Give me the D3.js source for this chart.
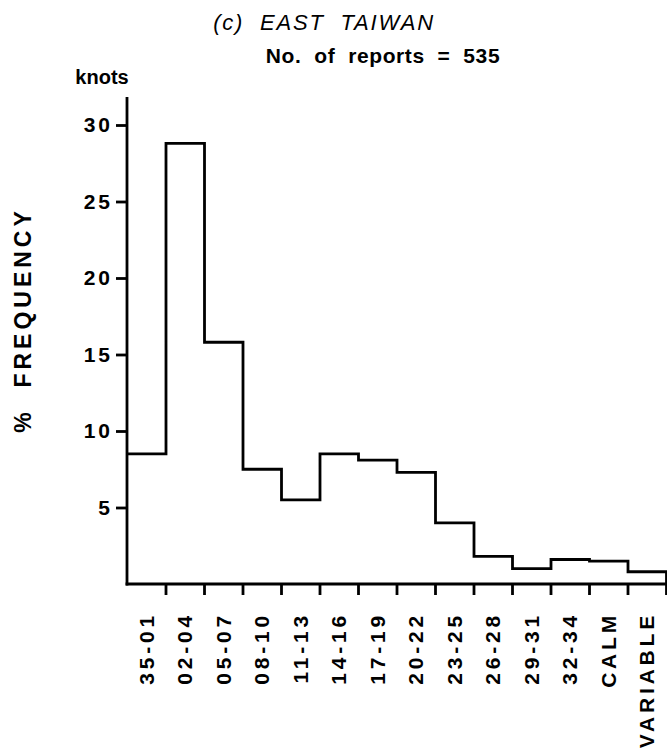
<!DOCTYPE html>
<html>
<head>
<meta charset="utf-8">
<script src="https://cdn.jsdelivr.net/npm/d3@7"></script>
<style>
  html, body { margin: 0; padding: 0; background: #fff; }
  svg { display: block; }
  text { font-family: "Liberation Sans", Arial, sans-serif; fill: #000; }
</style>
</head>
<body>
<svg id="chart" width="667" height="754"></svg>
<script>
// Wind-speed classes (knots) for East Taiwan reports
const categories = ["35-01", "02-04", "05-07", "08-10", "11-13", "14-16", "17-19",
                    "20-22", "23-25", "26-28", "29-31", "32-34", "CALM", "VARIABLE"];
// Percentage frequency of each class
const frequency = [8.5, 28.8, 15.8, 7.5, 5.5, 8.5, 8.1, 7.3, 4.0, 1.8, 1.0, 1.6, 1.5, 0.8];
const yTicks = [5, 10, 15, 20, 25, 30];

const svg = d3.select("#chart");
const axisX = 127, baseY = 584;

const x = d3.scaleBand().domain(categories).range([127.5, 666.5]).padding(0);
const y = d3.scaleLinear().domain([0, 30]).range([baseY, 125]);

// Titles
svg.append("text")
  .attr("x", 324).attr("y", 30)
  .attr("text-anchor", "middle")
  .attr("font-size", 22).attr("font-style", "italic")
  .attr("letter-spacing", 1.8)
  .attr("xml:space", "preserve")
  .text("(c)  EAST  TAIWAN");

svg.append("text")
  .attr("x", 383).attr("y", 63)
  .attr("text-anchor", "middle")
  .attr("font-size", 21).attr("font-weight", "bold")
  .attr("letter-spacing", 0.6)
  .attr("xml:space", "preserve")
  .text("No.  of  reports  =  535");

svg.append("text")
  .attr("x", 102).attr("y", 84)
  .attr("text-anchor", "middle")
  .attr("font-size", 20).attr("font-weight", "bold")
  .text("knots");

// Y axis title
svg.append("text")
  .attr("transform", "translate(31,320) rotate(-90)")
  .attr("text-anchor", "middle")
  .attr("font-size", 23).attr("font-weight", "bold")
  .attr("letter-spacing", 4)
  .attr("xml:space", "preserve")
  .text("%  FREQUENCY");

// Y axis
const yAxis = d3.axisLeft(y).tickValues(yTicks).tickSize(11).tickPadding(3)
  .tickFormat(d3.format("d"));
const gy = svg.append("g").attr("transform", `translate(${axisX},0)`).call(yAxis);
gy.select(".domain").remove();
gy.selectAll(".tick line").attr("stroke", "#000").attr("stroke-width", 2.8);
gy.selectAll(".tick text")
  .attr("font-size", 21).attr("font-weight", "bold")
  .attr("letter-spacing", 3)
  .attr("font-family", "Liberation Sans, Arial, sans-serif");
svg.append("line")
  .attr("x1", axisX).attr("x2", axisX)
  .attr("y1", 97).attr("y2", baseY + 1.4)
  .attr("stroke", "#000").attr("stroke-width", 2.8);

// X axis: baseline and ticks at the bin edges
svg.append("line")
  .attr("x1", axisX - 1.4).attr("x2", 667)
  .attr("y1", baseY).attr("y2", baseY)
  .attr("stroke", "#000").attr("stroke-width", 2.8);
const edges = categories.map(c => x(c) + x.bandwidth());
svg.append("g").selectAll("line").data(edges).join("line")
  .attr("x1", d => d).attr("x2", d => d)
  .attr("y1", baseY).attr("y2", baseY + 11)
  .attr("stroke", "#000").attr("stroke-width", 2.8);

// Category labels, rotated
svg.append("g").selectAll("text").data(categories).join("text")
  .attr("transform", d => `translate(${x(d) + x.bandwidth() / 2 + 7},612) rotate(-90)`)
  .attr("text-anchor", "end")
  .attr("font-size", 21).attr("font-weight", "bold")
  .attr("letter-spacing", 3.8)
  .text(d => d);

// Step outline of the histogram
const pts = [];
categories.forEach((c, i) => {
  pts.push([x(c), y(frequency[i])]);
  pts.push([x(c) + x.bandwidth(), y(frequency[i])]);
});
pts.push([x(categories[categories.length - 1]) + x.bandwidth(), baseY]);
svg.append("path")
  .attr("d", d3.line()(pts))
  .attr("fill", "none")
  .attr("stroke", "#000")
  .attr("stroke-width", 2.8)
  .attr("stroke-linejoin", "miter");
</script>
</body>
</html>
